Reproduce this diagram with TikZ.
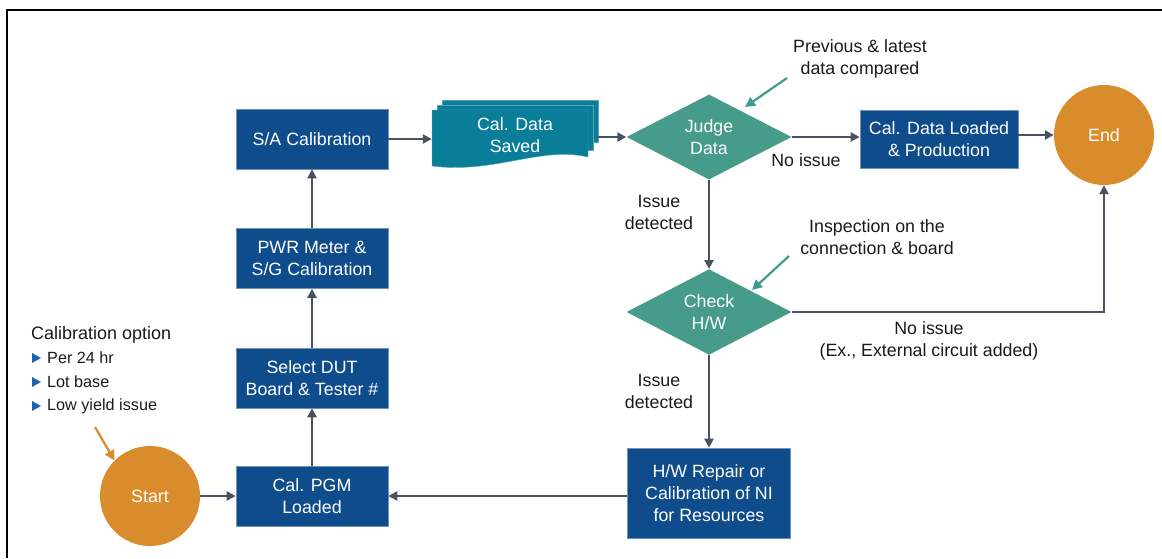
\documentclass[tikz,border=0pt]{standalone}
\usepackage{fontspec}
\setmainfont{Liberation Sans}
\usetikzlibrary{shapes.geometric,arrows.meta,calc}
\definecolor{boxblue}{HTML}{0F4C8C}
\definecolor{docteal}{HTML}{0A7D99}
\definecolor{dia}{HTML}{469B8B}
\definecolor{org}{HTML}{D98C2B}
\definecolor{arr}{HTML}{4A5163}
\definecolor{txt}{HTML}{1A1A1A}
\definecolor{bul}{HTML}{2464AE}
\definecolor{ptr}{HTML}{3F9C8C}
\begin{document}
\begin{tikzpicture}[x=1pt,y=-1pt,
  intext/.style={text=white, align=center, font=\fontsize{17.8}{22}\selectfont},
  box/.style={intext, fill=boxblue, draw=boxblue!60!white, line width=0.6pt, minimum width=152pt, minimum height=60pt, inner sep=0pt},
  dec/.style={intext, diamond, fill=dia, minimum width=165pt, minimum height=85pt, inner sep=0pt},
  circ/.style={intext, circle, fill=org, minimum size=100pt, inner sep=0pt},
  lbl/.style={text=txt, align=center, font=\fontsize{17.8}{22}\selectfont, inner sep=0pt},
  flow/.style={draw=arr, line width=2.3pt, -{Triangle[length=9pt,width=9pt]}},
  pointer/.style={draw=ptr, line width=2.2pt, -{Triangle[length=10pt,width=10pt]}},
  opointer/.style={draw=org, line width=2.2pt, -{Triangle[length=10pt,width=10pt]}},
  bulltxt/.style={text=txt, anchor=west, font=\fontsize{16.2}{20}\selectfont, inner sep=0pt}
]
\useasboundingbox (0,0) rectangle (1162,558);
% frame
\draw[line width=2.5pt] (7,558) -- (7,10) -- (1162,10);

% left column
\node[circ] (start) at (150,496) {Start};
\node[box] (pgm) at (312,496) {Cal. PGM\\Loaded};
\node[box] (dut) at (312,378) {Select DUT\\Board \& Tester \#};
\node[box] (pwr) at (312,258.5) {PWR Meter \&\\S/G Calibration};
\node[box] (sa) at (312,139) {S/A Calibration};

% multi-document shape
\begin{scope}[draw=docteal!70!white, line width=0.4pt, fill=docteal]
  \filldraw (442,100) -- (598,100) -- (598,142) -- (442,142) -- cycle;
  \filldraw (437,105) -- (593,105) -- (593,150) -- (437,150) -- cycle;
  \filldraw (432,110) -- (588,110) -- (588,157)
     .. controls (540,146) and (495,174) .. (432,166) -- cycle;
\end{scope}
\node[intext, minimum width=166pt, minimum height=70pt, inner sep=0pt] (saved) at (515,135) {Cal. Data\\Saved};

% right part
\node[dec] (judge) at (709,137) {Judge\\Data};
\node[box, minimum width=158pt, minimum height=58pt] (loaded) at (939,139) {Cal. Data Loaded\\\& Production};
\node[circ] (end) at (1104,135) {End};
\node[dec] (check) at (709,312) {Check\\H/W};
\node[box, minimum width=163pt, minimum height=90pt] (repair) at (709,493) {H/W Repair or\\Calibration of NI\\for Resources};

% connectors
\draw[flow] (start.east) -- (start.east -| pgm.west);
\draw[flow] (pgm.north) -- (dut.south);
\draw[flow] (dut.north) -- (pwr.south);
\draw[flow] (pwr.north) -- (sa.south);
\draw[flow] (sa.east) -- (sa.east -| saved.west);
\draw[flow] (saved.east |- judge.west) -- (judge.west);
\draw[flow] (judge.east) -- (judge.east -| loaded.west);
\draw[flow] (loaded.east |- end.west) -- (end.west);
\draw[flow] (judge.south) -- (check.north);
\draw[flow] (check.east) -| (end.south);
\draw[flow] (check.south) -- (repair.north);
\draw[flow] (repair.west |- pgm.east) -- (pgm.east);

% labels
\node[lbl] (noissue1) at (806,160) {No issue};
\node[lbl] (issue1) at (659,212) {Issue\\detected};
\node[lbl] (issue2) at (659,391) {Issue\\detected};
\node[lbl] (noissue2) at (929,341) {No issue\\(Ex., External circuit added)};
\node[lbl] (prev) at (860,59) {Previous \& latest\\data compared};
\node[lbl] (insp) at (877,237) {Inspection on the\\connection \& board};

% pointers
\coordinate (p1s) at (787,78);
\coordinate (p1e) at (745,107);
\draw[pointer] (p1s) -- (p1e);
\coordinate (p2s) at (789,256);
\coordinate (p2e) at (752,290);
\draw[pointer] (p2s) -- (p2e);
\coordinate (p3s) at (95,427);
\draw[opointer] (p3s) -- (start.north west);

% calibration option
\node[text=txt, anchor=west, font=\fontsize{18}{22}\selectfont, inner sep=0pt] (calopt) at (31,335) {Calibration option};
\foreach \yy/\tt/\nm in {358/Per 24 hr/b1, 382/Lot base/b2, 406/Low yield issue/b3}{
  \fill[bul] (32,\yy-5) -- (41,\yy) -- (32,\yy+5) -- cycle;
  \node[bulltxt] (\nm) at (47,\yy) {\tt};
}
\end{tikzpicture}
\end{document}
